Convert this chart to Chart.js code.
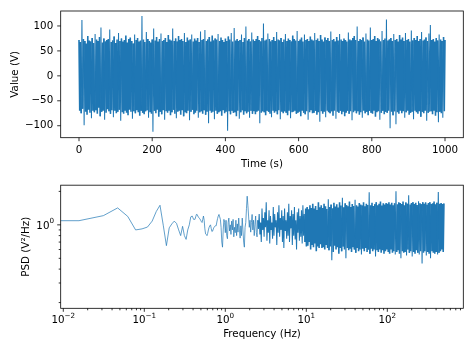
<!DOCTYPE html>
<html><head><meta charset="utf-8">
<script src="https://cdn.jsdelivr.net/npm/chart.js@4.4.1/dist/chart.umd.min.js"></script>
<style>
html,body{margin:0;padding:0;background:#fff;width:474px;height:355px;overflow:hidden}
canvas{position:absolute;left:0}
#c1{top:0}
#c2{top:175px}
</style></head><body>
<canvas id="c1" width="474" height="175"></canvas>
<canvas id="c2" width="474" height="180"></canvas>
<script>
// ---------- data ----------
const timeTicks = [0, 200, 400, 600, 800, 1000];
const valueTicks = [-100, -50, 0, 50, 100];
const timeSpan = 1000; // seconds covered by signalValues
// sampled extremes of the signal, read from the picture (alternating high / low)
const signalValues = [
72,-70,68,-75,112,-66,74,-99,70,-72,65,-78,80,-68,71,-74,69,-85,76,-70,
66,-73,84,-69,73,-76,70,-64,78,-81,97,-72,67,-70,75,-88,69,-74,72,-67,
74,-71,93,-76,68,-69,71,-83,79,-70,66,-75,73,-72,86,-68,70,-90,75,-73,
69,-76,72,-70,81,-74,67,-79,74,-68,77,-72,70,-86,65,-71,83,-75,72,-69,
76,-73,69,-80,71,-70,120,-74,73,-77,68,-71,88,-69,74,-84,70,-73,67,-76,
73,-112,95,-70,71,-75,78,-68,69,-82,74,-72,85,-77,70,-69,72,-88,76,-71,
68,-74,82,-70,73,-79,71,-73,95,-68,70,-76,75,-85,69,-72,80,-70,72,-78,
74,-69,70,-81,86,-73,68,-75,77,-70,71,-89,73,-72,83,-68,69,-77,75,-74,
71,-70,76,-84,68,-73,89,-71,72,-76,74,-69,92,-78,70,-72,73,-95,78,-70,
69,-74,81,-72,71,-87,75,-70,73,-76,84,-73,70,-71,77,-80,72,-69,68,-75,
75,-72,70,-110,79,-71,73,-77,86,-70,69,-74,96,-73,71,-81,74,-70,70,-86,
72,-73,83,-69,68,-78,76,-71,99,-75,71,-72,74,-84,69,-70,87,-76,73,-71,
70,-77,74,-72,80,-70,72,-95,69,-74,76,-71,105,-73,71,-79,73,-70,85,-72,
74,-76,69,-83,72,-70,78,-74,70,-71,88,-77,73,-69,71,-87,76,-72,68,-75,
73,-71,84,-74,70,-79,75,-70,72,-85,69,-73,81,-72,74,-70,71,-76,90,-74,
70,-72,73,-81,77,-70,69,-74,83,-77,72,-71,74,-88,70,-73,79,-69,73,-75,
71,-74,86,-70,72,-78,75,-73,70,-92,82,-71,73,-76,69,-72,77,-83,72,-70,
76,-73,70,-75,89,-71,72,-80,74,-70,69,-86,78,-72,71,-74,84,-70,73,-77,
70,-72,75,-81,72,-74,69,-70,87,-76,73,-71,71,-89,76,-73,80,-70,72,-75,
99,-71,70,-78,74,-73,72,-84,77,-70,69,-75,85,-72,73,-79,71,-70,97,-74,
72,-76,74,-70,80,-82,70,-73,76,-71,73,-88,69,-74,90,-70,72,-77,75,-72,
113,-74,71,-70,73,-105,76,-72,70,-79,84,-71,72,-97,74,-73,69,-76,82,-70,
73,-75,77,-71,70,-84,86,-73,72,-70,74,-78,69,-74,91,-72,71,-87,76,-70,
72,-73,80,-76,70,-71,74,-82,88,-72,71,-75,73,-70,77,-90,70,-74,85,-72,
102,-71,72,-77,74,-70,69,-80,76,-73,71,-93,83,-72,73,-75,70,-84,78,-71,
72
];
const signalCoreLimit = 82; // |value| inside which the trace is a dense solid band

// PSD: lowest frequency bins (resolution 1/64 Hz)
const psdLowFreqs = [0, 0.015625, 0.03125, 0.046875, 0.0625, 0.078125, 0.09375, 0.109375, 0.125,
  0.140625, 0.15625, 0.171875, 0.1875, 0.203125, 0.21875, 0.234375, 0.25, 0.265625, 0.28125,
  0.296875, 0.3125, 0.328125, 0.34375, 0.359375, 0.375];
const psdLowValues = [1.09, 1.09, 1.21, 1.42, 1.19, 0.90, 0.92, 0.955, 1.08, 1.32, 1.50, 0.98, 0.65,
  0.94, 1.02, 1.08, 1.03, 0.90, 0.80, 0.97, 0.80, 0.74, 0.90, 1.0, 1.18];
// PSD above 0.39 Hz, sampled on a log-spaced frequency grid up to 500 Hz
const psdDenseStart = 0.39;
const psdDenseEnd = 500;
const psdDenseValues = [
1.2,1.16,1.12,1.12,1.12,1.18,1.24,1.24,1.2,1.17,
1.15,1.13,1.1,1.07,1.05,1.12,1.2,1.1,0.92,0.83,
0.82,0.8,0.84,0.9,0.95,0.98,1.0,0.93,0.87,0.88,
0.92,0.95,0.97,0.98,0.98,1.06,1.14,1.2,1.24,1.18,
1.12,0.95,0.7,0.63,0.9,1.12,1.05,0.85,1.1,0.8,
0.75,1.05,1.15,0.88,1.0,0.82,1.08,0.9,1.12,0.78,
0.95,0.85,1.1,0.8,1.02,0.86,1.15,0.9,0.76,0.98,
0.8,1.15,0.9,0.7,0.63,0.95,1.05,1.4,1.81,1.5,
1.2,0.95,1.1,0.86,1.05,1.24,0.9,1.1,0.8,1.0,
1.2,0.85,0.78,1.1,0.92,
1.25,0.82,1.05,0.7,1.4,0.9,1.15,0.78,1.3,0.95,1.6,0.72,1.1,0.85,1.35,0.68,1.2,0.9,1.05,0.75,
1.45,0.8,1.25,0.95,1.1,0.66,1.3,0.85,1.5,0.78,1.15,0.9,1.35,0.7,1.2,0.62,1.4,0.88,1.1,0.75,
1.3,0.8,1.55,0.7,1.2,0.93,1.35,0.66,1.25,0.8,1.45,0.74,1.1,0.6,1.3,0.85,1.4,0.72,1.2,0.78,
1.35,0.68,1.5,0.8,1.25,0.7,1.4,0.64,
1.45,0.65,1.38,0.7,1.5,0.6,1.42,0.66,1.55,0.63,1.4,0.68,1.48,0.58,1.36,0.64,1.6,0.62,1.44,0.67,
1.5,0.62,1.42,0.63,1.55,0.6,1.47,0.66,1.39,0.62,1.7,0.59,1.45,0.64,1.52,0.48,1.4,0.57,1.58,0.65,
1.46,0.6,1.53,0.63,1.43,0.55,1.6,0.62,1.49,0.58,1.75,0.64,1.44,0.6,1.56,0.5,1.5,0.62,1.47,0.59,
1.62,0.61,1.45,0.57,1.54,0.63,1.48,0.6,1.68,0.56,1.5,0.62,1.46,0.58,1.57,0.6,1.52,0.54,1.49,0.61,
1.6,0.58,1.47,0.62,1.55,0.57,1.51,0.6,1.96,0.55,1.5,0.61,1.58,0.58,1.48,0.6,1.53,0.52,1.6,0.59,
1.5,0.57,1.55,0.6,1.62,0.56,1.49,0.59,1.56,0.55,1.52,0.58,1.57,0.6,
1.55,0.57,1.6,0.55,1.52,0.6,1.58,0.56,1.5,0.58,1.56,0.54,2.0,0.57,1.53,0.59,1.6,0.55,1.57,0.5,
1.54,0.58,1.62,0.56,1.5,0.57,1.59,0.53,1.55,0.6,1.85,0.56,1.52,0.58,1.57,0.52,1.6,0.57,1.54,0.55,
1.58,0.59,1.51,0.56,1.63,0.54,1.56,0.58,1.53,0.45,1.6,0.56,1.55,0.58,1.59,0.53,1.52,0.57,1.57,0.55,
1.6,0.5,1.54,0.58,1.56,0.56,1.62,0.55,1.53,0.57,1.58,0.54,1.97,0.56,1.55,0.58,1.57,0.6,1.54,0.57,1.56
];
const psdBusyFrom = 2.5;            // above this frequency the PSD trace gets dense
const psdBandFrom = 9.5;            // above this frequency it is a solid band
const psdCoreRange = [0.55, 1.62];  // value range of that solid band
const freqMajorTicks = [0.01, 0.1, 1, 10, 100];
const freqTickExponents = ['\u22122', '\u22121', '0', '1', '2'];
const psdMajorTicks = [1];
const psdTickExponents = ['0'];

// ---------- build ----------
const signalPoints = signalValues.map((v, i) => ({x: i * timeSpan / (signalValues.length - 1), y: v}));
const psdPoints = psdLowFreqs.map((f, i) => ({x: f, y: psdLowValues[i]}));
const lf0 = Math.log10(psdDenseStart), lf1 = Math.log10(psdDenseEnd);
psdDenseValues.forEach((v, i) => {
  psdPoints.push({x: Math.pow(10, lf0 + i * (lf1 - lf0) / (psdDenseValues.length - 1)), y: v});
});

function logTicks(majors, min, max) {
  const out = [];
  const decades = majors.map(m => m / 10).concat(majors);
  decades.forEach(m => {
    for (let k = 1; k <= 9; k++) {
      const v = m * k;
      if (v < min || v > max) continue;
      if (out.some(t => Math.abs(t.value - v) < v * 1e-9)) continue;
      out.push({value: v, major: k === 1 && majors.some(M => Math.abs(M - v) < v * 1e-9)});
    }
  });
  out.sort((a, b) => a.value - b.value);
  return out;
}

const FONT = '"DejaVu Sans"';
Chart.defaults.font.family = 'DejaVu Sans';
Chart.defaults.font.size = 10.3;
Chart.defaults.color = '#000';

function drawPow(ctx, exp, x, y, align) {
  ctx.font = '10.3px ' + FONT;
  const wb = ctx.measureText('10').width;
  ctx.font = '7.2px ' + FONT;
  const we = ctx.measureText(exp).width;
  const x0 = align === 'center' ? x - (wb + we) / 2 : x - (wb + we);
  ctx.textAlign = 'left';
  ctx.textBaseline = 'alphabetic';
  ctx.fillStyle = '#000';
  ctx.font = '10.3px ' + FONT;
  ctx.fillText('10', x0, y);
  ctx.font = '7.2px ' + FONT;
  ctx.fillText(exp, x0 + wb, y - 5.6);
}

const mplFrame = {
  id: 'mplFrame',
  afterDraw(chart) {
    const {ctx, chartArea: a} = chart;
    ctx.save();
    ctx.strokeStyle = '#000';
    ctx.lineWidth = 0.8;
    ctx.setLineDash([]);
    const sx = chart.scales.x, sy = chart.scales.y;
    sx.ticks.forEach(t => {
      const p = sx.getPixelForValue(t.value);
      const len = t.major ? 3.5 : 2;
      ctx.beginPath(); ctx.moveTo(p, a.bottom); ctx.lineTo(p, a.bottom + len); ctx.stroke();
      if (t.major && sx.options.powLabels) {
        const i = sx.options.powLabels.ticks.findIndex(m => Math.abs(m - t.value) < m * 1e-9);
        if (i >= 0) drawPow(ctx, sx.options.powLabels.exps[i], p, a.bottom + 15, 'center');
      }
    });
    sy.ticks.forEach(t => {
      const p = sy.getPixelForValue(t.value);
      const len = t.major ? 3.5 : 2;
      ctx.beginPath(); ctx.moveTo(a.left, p); ctx.lineTo(a.left - len, p); ctx.stroke();
      if (t.major && sy.options.powLabels) {
        const i = sy.options.powLabels.ticks.findIndex(m => Math.abs(m - t.value) < m * 1e-9);
        if (i >= 0) drawPow(ctx, sy.options.powLabels.exps[i], a.left - 6.7, p + 3.7, 'right');
      }
    });
    ctx.strokeRect(a.left, a.top, a.right - a.left, a.bottom - a.top);
    ctx.restore();
  }
};

const fmtNum = v => (v < 0 ? '\u2212' + Math.abs(v) : String(v));
const baseGrid = {display: false, drawTicks: true, tickLength: 3.5};
// a solid "dash" pattern forces Chart.js to stroke every segment (no column collapsing)
const solidDash = [100000, 0];
const BLUE = '#1f77b4';
const THIN = 0.7, MID = 1.05, DENSE = 1.6;

new Chart(document.getElementById('c1'), {
  type: 'line',
  data: {datasets: [{data: signalPoints, borderColor: BLUE, borderWidth: THIN,
    borderDash: solidDash, pointRadius: 0, fill: false, tension: 0,
    segment: {borderWidth: c => (Math.abs(c.p0.parsed.y) <= signalCoreLimit &&
      Math.abs(c.p1.parsed.y) <= signalCoreLimit) ? DENSE : MID}}]},
  options: {
    responsive: false, animation: false, devicePixelRatio: 1,
    layout: {padding: {left: 0, right: 10.7, top: 11, bottom: 0}},
    plugins: {legend: {display: false}, tooltip: {enabled: false}},
    scales: {
      x: {type: 'linear', min: -50, max: 1050,
        afterBuildTicks: s => { s.ticks = timeTicks.map(v => ({value: v, major: true})); },
        ticks: {autoSkip: false, maxRotation: 0, padding: 2.5, callback: v => fmtNum(v)},
        grid: baseGrid, border: {display: false},
        title: {display: true, text: 'Time (s)', padding: {top: 0, bottom: 4.8}},
        afterFit: s => { s.height = 37.3; }},
      y: {type: 'linear', min: -124, max: 130,
        afterBuildTicks: s => { s.ticks = valueTicks.map(v => ({value: v, major: true})); },
        ticks: {autoSkip: false, padding: 4, callback: v => fmtNum(v)},
        grid: baseGrid, border: {display: false},
        title: {display: true, text: 'Value (V)', padding: {top: 9, bottom: 0}},
        afterFit: s => { s.width = 60.7; }}
    }
  },
  plugins: [mplFrame]
});

const inCore = v => v >= psdCoreRange[0] && v <= psdCoreRange[1];
const psdWidth = c => {
  const f = c.p0.parsed.x;
  if (f >= psdBandFrom) return (inCore(c.p0.parsed.y) && inCore(c.p1.parsed.y)) ? DENSE : MID;
  if (f >= psdBusyFrom) return MID;
  return THIN;
};
const xMin = 0.00929, xMax = 867, yMin = 0.1776, yMax = 2.274;
new Chart(document.getElementById('c2'), {
  type: 'line',
  data: {datasets: [{data: psdPoints, borderColor: BLUE, borderWidth: THIN, borderDash: solidDash,
    pointRadius: 0, fill: false, tension: 0, segment: {borderWidth: psdWidth}}]},
  options: {
    responsive: false, animation: false, devicePixelRatio: 1,
    layout: {padding: {left: 0, right: 10.7, top: 6, bottom: 0}},
    plugins: {legend: {display: false}, tooltip: {enabled: false}},
    scales: {
      x: {type: 'logarithmic', min: xMin, max: xMax,
        powLabels: {ticks: freqMajorTicks, exps: freqTickExponents},
        afterBuildTicks: s => { s.ticks = logTicks(freqMajorTicks, xMin, xMax); },
        ticks: {autoSkip: false, maxRotation: 0, padding: 2.5, callback: () => ''},
        grid: baseGrid, border: {display: false},
        title: {display: true, text: 'Frequency (Hz)', padding: {top: 0, bottom: 14.1}},
        afterFit: s => { s.height = 46.7; }},
      y: {type: 'logarithmic', min: yMin, max: yMax,
        powLabels: {ticks: psdMajorTicks, exps: psdTickExponents},
        afterBuildTicks: s => { s.ticks = logTicks(psdMajorTicks, yMin, yMax); },
        ticks: {autoSkip: false, padding: 4, callback: () => ''},
        grid: baseGrid, border: {display: false},
        title: {display: true, text: 'PSD (V\u00B2/Hz)', padding: {top: 20.5, bottom: 0}},
        afterFit: s => { s.width = 60.7; }}
    }
  },
  plugins: [mplFrame]
});
</script>
</body></html>
